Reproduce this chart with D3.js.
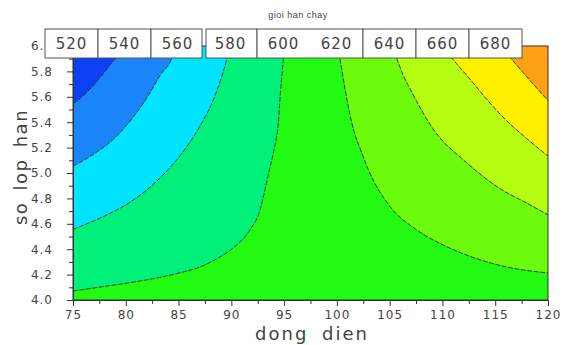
<!DOCTYPE html>
<html><head><meta charset="utf-8">
<script src="https://cdn.jsdelivr.net/npm/d3@7"></script>
<style>
body{margin:0;background:#fff;}
text{font-family:"Liberation Sans",Arial,sans-serif;fill:#444;}
</style></head>
<body><svg id="c" width="563" height="345"></svg>
<script>
// ---- data ----
const title = "gioi han chay";
const xLabel = "dong dien";
const yLabel = "so lop han";
const xMajorTicks = [75,80,85,90,95,100,105,110,115,120];
const xMinorTicks = [77.5,82.5,87.5,92.5,97.5,102.5,107.5,112.5,117.5];
const yMajorTicks = [4.0,4.2,4.4,4.6,4.8,5.0,5.2,5.4,5.6,5.8,6.0];
const yMinorTicks = [4.1,4.3,4.5,4.7,4.9,5.1,5.3,5.5,5.7,5.9];
const legendLevels = [520,540,560,580,600,620,640,660,680];

// contour lines (x = dong dien, y = so lop han)
const c540 = [[75,5.544],[75.98,5.61],[76.92,5.689],[77.87,5.782],[78.98,5.901],[79.93,6.0]];
const c560 = [[75,5.054],[76.92,5.147],[78.82,5.266],[80.56,5.425],[82.13,5.61],[83.24,5.768],[84.35,5.901],[84.76,6.0]];
const c580 = [[75,4.557],[77.87,4.657],[80.4,4.77],[83.24,4.96],[85.45,5.17],[87.03,5.37],[88.29,5.575],[89.09,5.76],[89.56,5.895],[89.83,6.0]];
const c600 = [[75,4.07],[77.56,4.102],[80.09,4.133],[82.61,4.168],[84.82,4.208],[87.03,4.26],[88.93,4.34],[90.51,4.433],[91.77,4.552],[92.72,4.71],[93.19,4.869],[93.5,4.988],[93.98,5.16],[94.45,5.398],[94.68,5.663],[94.92,5.901],[94.99,6.0]];
const c620 = [[100.09,6.0],[100.29,5.901],[100.77,5.663],[101.4,5.398],[102.35,5.16],[102.97,5.028],[105.03,4.737],[107.56,4.552],[110.08,4.433],[112.92,4.335],[116.09,4.26],[120,4.213]];
const c640 = [[105.22,6.0],[105.67,5.901],[106.29,5.768],[106.93,5.663],[109.13,5.345],[112.3,5.081],[115.6,4.869],[117.98,4.763],[120,4.671]];
const c660 = [[110.05,6.0],[110.9,5.905],[112.6,5.74],[114.3,5.57],[116.1,5.41],[118,5.27],[120,5.133]];
const c680 = [[115.45,6.0],[116.16,5.933],[117.98,5.758],[120,5.57]];

const baseColor = "#22fa12";           // 600-620
const leftLevels  = [c600, c580, c560, c540];
const leftColors  = ["#00f07a", "#00e4ff", "#1a84fb", "#0d40f2"];
const rightLevels = [c620, c640, c660, c680];
const rightColors = ["#6cfb0c", "#b4fd12", "#fff000", "#ffa114"];

// ---- layout ----
const svg = d3.select("#c");
const L = 73, R = 548, T = 46, B = 300;
const x = d3.scaleLinear().domain([75,120]).range([L,R]);
const y = d3.scaleLinear().domain([4,6]).range([B,T]);

svg.append("defs").append("clipPath").attr("id","clip")
  .append("rect").attr("x",L).attr("y",T).attr("width",R-L).attr("height",B-T);

const g = svg.append("g").attr("clip-path","url(#clip)");
g.append("rect").attr("x",L).attr("y",T).attr("width",R-L).attr("height",B-T).attr("fill",baseColor);

const line = d3.line().x(d=>x(d[0])).y(d=>y(d[1])).curve(d3.curveMonotoneX);

leftLevels.forEach((c,i)=>{
  g.append("path").attr("d", line(c) + "L" + x(75) + "," + y(6) + "Z").attr("fill", leftColors[i]);
});
rightLevels.forEach((c,i)=>{
  g.append("path").attr("d", line(c) + "L" + x(120) + "," + y(6) + "Z").attr("fill", rightColors[i]);
});
[...leftLevels, ...rightLevels].forEach(c=>{
  g.append("path").attr("d", line(c)).attr("fill","none")
    .attr("stroke","#2a2a2a").attr("stroke-width",0.9).attr("stroke-dasharray","5,1.5");
});

// frame
svg.append("rect").attr("x",L).attr("y",T).attr("width",R-L).attr("height",B-T)
  .attr("fill","none").attr("stroke","#333").attr("stroke-width",1);

// axes
svg.append("g").attr("transform",`translate(0,${B})`)
  .call(d3.axisBottom(x).tickValues(xMajorTicks).tickSize(6).tickPadding(4).tickFormat(d3.format("d")));
svg.append("g").attr("transform",`translate(0,${B})`)
  .call(d3.axisBottom(x).tickValues(xMinorTicks).tickSize(4).tickFormat(""));
svg.append("g").attr("transform",`translate(${L},0)`)
  .call(d3.axisLeft(y).tickValues(yMajorTicks).tickSize(6).tickPadding(14).tickFormat(d3.format(".1f")));
svg.append("g").attr("transform",`translate(${L},0)`)
  .call(d3.axisLeft(y).tickValues(yMinorTicks).tickSize(4).tickFormat(""));
svg.selectAll(".domain").attr("stroke","#333");
svg.selectAll(".tick line").attr("stroke","#333");
svg.selectAll(".tick text").style("font-size","12px").style("letter-spacing","1px")
  .style("font-family","'DejaVu Sans',sans-serif").attr("fill","#555");

// titles
svg.append("text").attr("x",298).attr("y",18).attr("text-anchor","middle")
  .style("font-size","9px").style("letter-spacing","0.5px").text(title);
svg.append("text").attr("x",312).attr("y",340).attr("text-anchor","middle")
  .style("font-family","'DejaVu Sans',sans-serif").style("font-size","18px")
  .style("letter-spacing","2px").style("word-spacing","6px").attr("fill","#555").text(xLabel);
svg.append("text").attr("transform","translate(27,167) rotate(-90)").attr("text-anchor","middle")
  .style("font-family","'DejaVu Sans',sans-serif").style("font-size","18px")
  .style("letter-spacing","1.5px").style("word-spacing","4px").attr("fill","#555").text(yLabel);

// legend boxes
const lx = d3.scaleBand().domain(legendLevels).range([45,522]);
const legendGroups = [[520],[540],[560],[580],[600,620],[640],[660],[680]];
const lg = svg.append("g");
legendGroups.forEach(grp=>{
  const x0 = lx(grp[0]) + (grp[0]===580 ? 2 : 0);
  const x1 = lx(grp[grp.length-1]) + lx.bandwidth() - (grp[0]===560 ? 2 : 0);
  lg.append("rect").attr("x",x0).attr("y",29).attr("width",x1-x0).attr("height",29)
    .attr("fill","#fff").attr("stroke","#555").attr("stroke-width",1);
});
lg.selectAll("text.lv").data(legendLevels).join("text").attr("class","lv")
  .attr("x",d=>lx(d)+lx.bandwidth()/2).attr("y",49).attr("text-anchor","middle")
  .style("font-family","'DejaVu Sans',sans-serif").style("font-size","15px")
  .style("letter-spacing","1px").attr("fill","#555").text(d=>d);
</script></body></html>
